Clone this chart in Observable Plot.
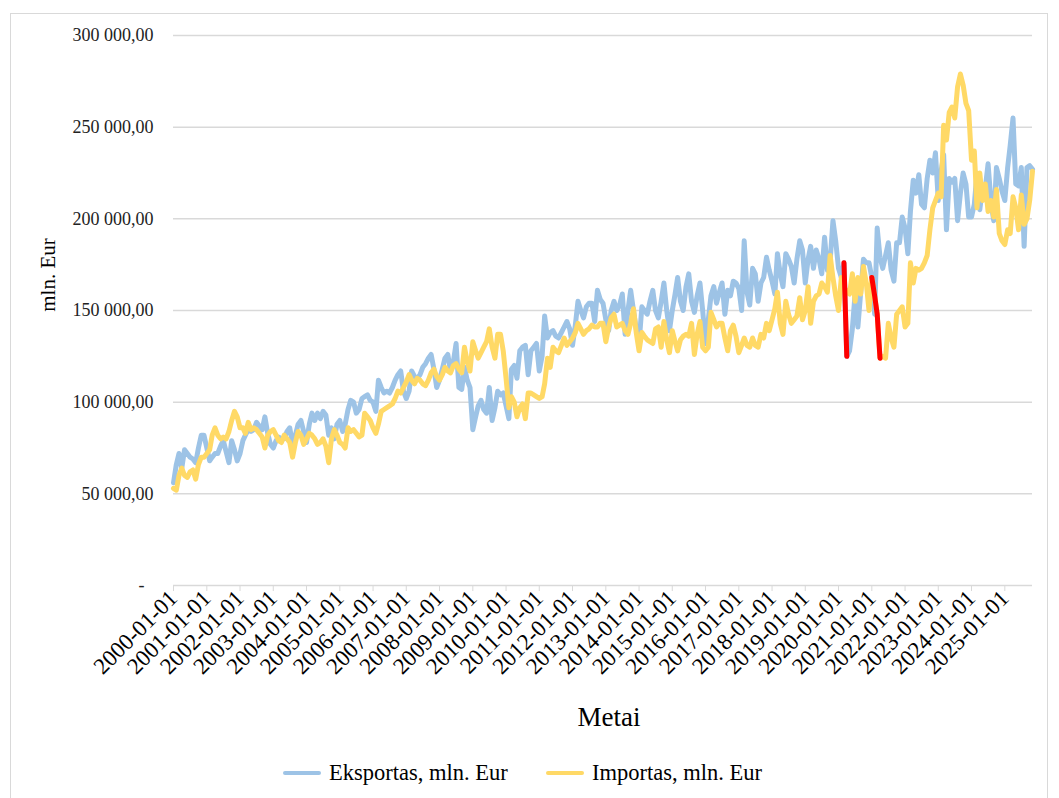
<!DOCTYPE html>
<html>
<head>
<meta charset="utf-8">
<script src="https://cdn.jsdelivr.net/npm/d3@7"></script>
<script src="https://cdn.jsdelivr.net/npm/@observablehq/plot@0.6"></script>
<style>
  html, body { margin: 0; padding: 0; background: #fff; }
  body { width: 1059px; height: 798px; position: relative; overflow: hidden;
         font-family: "Liberation Serif", "DejaVu Serif", "Noto Serif", "Times New Roman", serif; color: #000; }
  #frame { position: absolute; left: 10px; top: 13px; width: 1038px; height: 800px;
           border: 1px solid #d9d9d9; box-sizing: border-box; }
  #chart { position: absolute; left: 0; top: 0; }
  .ytitle { position: absolute; left: 48px; top: 275px; transform: translate(-50%, -50%) rotate(-90deg);
            font-size: 21px; white-space: nowrap; }
  .xtitle { position: absolute; left: 609px; top: 717px; transform: translate(-50%, -50%);
            font-size: 27px; white-space: nowrap; }
  .legend { position: absolute; top: 773px; transform: translateY(-50%); display: flex; align-items: center;
            font-size: 22.5px; white-space: nowrap; }
  .sw { display: inline-block; width: 38px; height: 4px; border-radius: 2px; margin-right: 8px; }
</style>
</head>
<body>
<div id="frame"></div>
<div id="chart"></div>
<div class="ytitle">mln. Eur</div>
<div class="xtitle">Metai</div>
<div class="legend" style="left:283px"><span class="sw" style="background:#9dc3e6"></span>Eksportas, mln. Eur</div>
<div class="legend" style="left:546px"><span class="sw" style="background:#ffd966"></span>Importas, mln. Eur</div>
<script>
// Monthly values, thousands of mln. Eur, 2000-01 … 2025-11
const eksportas = [
  56, 66, 72, 64, 74, 72, 70, 69, 67, 75, 82, 82,        // 2000
  75, 68, 70, 72, 72, 76, 79, 73, 67, 79, 74, 68,        // 2001
  72, 79, 82, 85, 84, 85, 89, 87, 85, 92, 83, 77,        // 2002
  75, 79, 81, 80, 80, 84, 86, 77, 82, 88, 90, 84,        // 2003
  78, 88, 94, 90, 94, 91, 95, 93, 82, 86, 80, 88,        // 2004
  90, 84, 88, 96, 101, 100, 94, 96, 102, 103, 104, 101,  // 2005
  100, 95, 112, 108, 105, 106, 105, 108, 112, 115, 117, 106, // 2006
  102, 106, 117, 114, 113, 115, 119, 121, 124, 126, 118, 108, // 2007
  112, 118, 124, 126, 117, 122, 132, 108, 107, 119, 112, 108, // 2008
  85, 92, 98, 101, 96, 94, 108, 90, 97, 106, 104, 105,   // 2009
  98, 91, 118, 120, 113, 128, 130, 131, 115, 128, 130, 132, // 2010
  117, 125, 147, 135, 138, 139, 136, 135, 138, 141, 144, 140, // 2011
  131, 142, 155, 150, 146, 152, 154, 154, 144, 161, 156, 154, // 2012
  145, 139, 150, 155, 150, 153, 159, 137, 150, 161, 150, 140, // 2013
  132, 152, 150, 148, 155, 161, 150, 146, 155, 165, 150, 139, // 2014
  150, 159, 168, 155, 150, 163, 170, 155, 149, 158, 165, 150, // 2015
  132, 145, 158, 163, 154, 160, 165, 148, 161, 158, 166, 165, // 2016
  162, 150, 188, 160, 153, 173, 170, 155, 165, 168, 179, 172, // 2017
  166, 159, 181, 170, 163, 181, 178, 174, 165, 178, 188, 183, // 2018
  165, 178, 185, 173, 183, 178, 170, 190, 172, 177, 199, 188, // 2019
  173, 168, 176, 125, 128, 140, 159, 141, 160, 178, 176, 176, // 2020
  168, 148, 195, 179, 173, 180, 187, 172, 166, 187, 187, 201, // 2021
  195, 181, 204, 221, 214, 224, 208, 206, 222, 232, 225, 236, // 2022
  210, 226, 235, 194, 222, 220, 222, 199, 214, 225, 219, 201, // 2023
  201, 208, 225, 205, 217, 217, 230, 210, 199, 228, 222, 215, // 2024
  210, 228, 240, 255, 219, 218, 228, 185, 228, 229, 227       // 2025
];
const importas = [
  53, 52, 60, 64, 60, 59, 62, 63, 58, 66, 70, 70,        // 2000
  72, 74, 82, 86, 82, 80, 81, 80, 84, 90, 95, 92,        // 2001
  86, 86, 83, 89, 85, 86, 85, 83, 81, 75, 82, 84,        // 2002
  85, 82, 79, 78, 82, 80, 78, 70, 78, 84, 82, 77,        // 2003
  80, 83, 82, 80, 77, 78, 80, 76, 67, 80, 85, 82,        // 2004
  78, 77, 75, 86, 84, 85, 83, 81, 82, 94, 92, 90,        // 2005
  86, 83, 88, 95, 96, 97, 98, 99, 102, 106, 105, 108,    // 2006
  111, 115, 112, 110, 113, 112, 110, 109, 112, 116, 118, 114, // 2007
  112, 115, 119, 117, 116, 120, 121, 118, 116, 130, 122, 117, // 2008
  133, 128, 124, 127, 130, 133, 140, 130, 124, 137, 137, 128, // 2009
  113, 97, 103, 100, 92, 97, 99, 91, 105, 105, 104, 103, // 2010
  102, 103, 110, 124, 119, 130, 128, 127, 131, 135, 131, 133, // 2011
  135, 138, 143, 140, 137, 139, 140, 142, 141, 141, 143, 143, // 2012
  133, 141, 146, 148, 141, 142, 143, 139, 137, 143, 151, 138, // 2013
  128, 138, 136, 134, 133, 132, 140, 141, 130, 144, 134, 127, // 2014
  139, 133, 128, 134, 136, 137, 136, 143, 126, 137, 144, 130, // 2015
  128, 130, 149, 145, 141, 143, 143, 135, 128, 139, 142, 136, // 2016
  127, 131, 135, 131, 130, 135, 131, 130, 137, 135, 143, 139, // 2017
  145, 151, 160, 143, 137, 155, 148, 143, 145, 147, 157, 145, // 2018
  150, 163, 143, 155, 158, 159, 165, 163, 160, 180, 168, 158, // 2019
  150, 168, 163, 160, 159, 170, 155, 168, 159, 174, 165, 150, // 2020
  168, 158, 148, 124, 125, 124, 143, 135, 130, 148, 150, 152, // 2021
  141, 143, 176, 165, 173, 172, 173, 176, 180, 194, 206, 210, // 2022
  214, 212, 251, 243, 258, 261, 255, 272, 279, 273, 263, 259, // 2023
  232, 237, 206, 225, 210, 219, 204, 210, 201, 216, 192, 188, // 2024
  186, 194, 192, 212, 206, 194, 213, 197, 200, 210, 226       // 2025
];
const firstMonth = "2000-01-01";
const lastMonth = "2025-11-01";
const xTickLabels = ["2000-01-01","2001-01-01","2002-01-01","2003-01-01","2004-01-01","2005-01-01",
  "2006-01-01","2007-01-01","2008-01-01","2009-01-01","2010-01-01","2011-01-01","2012-01-01",
  "2013-01-01","2014-01-01","2015-01-01","2016-01-01","2017-01-01","2018-01-01","2019-01-01",
  "2020-01-01","2021-01-01","2022-01-01","2023-01-01","2024-01-01","2025-01-01"];
const yTicks = [0, 50000, 100000, 150000, 200000, 250000, 300000];
// segments highlighted in red in the original
const highlights = [
  {series: "Eksportas", from: "2020-03-01", to: "2020-04-01"},
  {series: "Importas", from: "2021-01-01", to: "2021-04-01"}
];

const parse = d3.utcParse("%Y-%m-%d");
const months = d3.utcMonth.range(parse(firstMonth), d3.utcMonth.offset(parse(lastMonth), 1));
const expData = months.map((date, i) => ({date, value: eksportas[i] * 1000, series: "Eksportas"}));
const impData = months.map((date, i) => ({date, value: importas[i] * 1000, series: "Importas"}));
const redData = highlights.flatMap((h, k) => {
  const src = h.series === "Eksportas" ? expData : impData;
  const a = parse(h.from), b = parse(h.to);
  return src.filter(d => d.date >= a && d.date <= b).map(d => ({...d, seg: k}));
});

const loc = d3.formatLocale({decimal: ",", thousands: "\u00a0", grouping: [3], currency: ["", ""]});
const f2 = loc.format(",.2f");
const fmtY = d => d === 0 ? "-\u2002" : f2(d);
const serif = "'Liberation Serif', 'DejaVu Serif', 'Noto Serif', 'Times New Roman', serif";

const chart = Plot.plot({
  width: 1059,
  height: 740,
  marginLeft: 173,
  marginRight: 27,
  marginTop: 35,
  marginBottom: 155,
  style: {fontFamily: serif, background: "transparent", overflow: "visible"},
  x: {type: "utc", domain: [parse(firstMonth), parse(lastMonth)]},
  y: {domain: [0, 300000]},
  marks: [
    Plot.gridY(yTicks, {stroke: "#d9d9d9", strokeOpacity: 1, strokeWidth: 1.5}),
    Plot.axisY(yTicks, {tickSize: 0, tickPadding: 20, tickFormat: fmtY, fontSize: 18, fill: "#222", label: null, fontFamily: serif}),
    Plot.axisX(xTickLabels.map(parse), {tickSize: 6, tickPadding: 3, stroke: "#d9d9d9", strokeOpacity: 1,
      fill: "#000", tickRotate: -45, fontSize: 23, fontFamily: serif, tickFormat: d3.utcFormat("%Y-%m-%d"), label: null}),
    Plot.line(expData, {x: "date", y: "value", stroke: "#9dc3e6", strokeWidth: 5, strokeLinejoin: "round", strokeLinecap: "round"}),
    Plot.line(impData, {x: "date", y: "value", stroke: "#ffd966", strokeWidth: 5, strokeLinejoin: "round", strokeLinecap: "round"}),
    Plot.line(redData, {x: "date", y: "value", z: "seg", stroke: "#ff0000", strokeWidth: 5, strokeLinejoin: "round", strokeLinecap: "round"})
  ]
});
document.getElementById("chart").appendChild(chart);
</script>
</body>
</html>
